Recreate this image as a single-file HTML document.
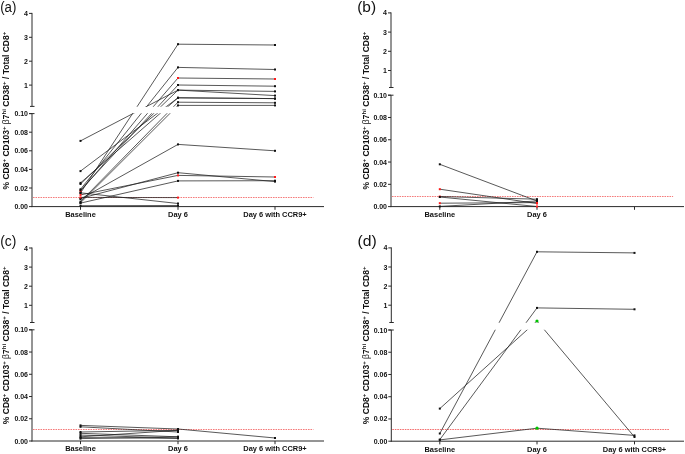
<!DOCTYPE html>
<html><head><meta charset="utf-8"><style>
html,body{margin:0;padding:0;background:#fff;}
body{width:685px;height:454px;overflow:hidden;}
svg{display:block;will-change:transform;}
text{font-family:"Liberation Sans", sans-serif;fill:#111;}
</style></head><body>
<svg width="685" height="454" viewBox="0 0 685 454" shape-rendering="auto">
<rect width="685" height="454" fill="#fff"/>
<text x="0.2" y="12.1" font-size="13.8" font-weight="normal" text-anchor="start" transform="translate(0.2,12.1) scale(0.96,1) translate(-0.2,-12.1)">(a)</text>
<text x="0" y="0" font-size="8.5" font-weight="bold" text-anchor="middle" transform="translate(9.2,110.6) rotate(-90) scale(1,1)">% CD8<tspan font-size="6.12" dy="-3.23">+</tspan><tspan dy="3.23"> CD103</tspan><tspan font-size="6.12" dy="-3.23">+</tspan><tspan dy="3.23" font-weight="normal"> β</tspan><tspan>7</tspan><tspan font-size="6.12" dy="-3.23">hi</tspan><tspan dy="3.23"> CD38</tspan><tspan font-size="6.12" dy="-3.23">+</tspan><tspan dy="3.23"> / Total CD8</tspan><tspan font-size="6.12" dy="-3.23">+</tspan></text>
<line x1="32" y1="12.9" x2="32" y2="106.4" stroke="#2a2a2a" stroke-width="1"/>
<line x1="30" y1="106.4" x2="34.5" y2="106.4" stroke="#2a2a2a" stroke-width="1"/>
<line x1="29" y1="13.4" x2="32" y2="13.4" stroke="#2a2a2a" stroke-width="1"/>
<text x="28" y="15.9" font-size="7" font-weight="bold" text-anchor="end">4</text>
<line x1="29" y1="37.3" x2="32" y2="37.3" stroke="#2a2a2a" stroke-width="1"/>
<text x="28" y="39.8" font-size="7" font-weight="bold" text-anchor="end">3</text>
<line x1="29" y1="61.2" x2="32" y2="61.2" stroke="#2a2a2a" stroke-width="1"/>
<text x="28" y="63.7" font-size="7" font-weight="bold" text-anchor="end">2</text>
<line x1="29" y1="85.1" x2="32" y2="85.1" stroke="#2a2a2a" stroke-width="1"/>
<text x="28" y="87.6" font-size="7" font-weight="bold" text-anchor="end">1</text>
<line x1="32" y1="113.6" x2="32" y2="207.1" stroke="#2a2a2a" stroke-width="1"/>
<line x1="29" y1="113.6" x2="34.5" y2="113.6" stroke="#2a2a2a" stroke-width="1"/>
<line x1="29" y1="113.6" x2="32" y2="113.6" stroke="#2a2a2a" stroke-width="1"/>
<text x="28" y="116.1" font-size="7" font-weight="bold" text-anchor="end">0.10</text>
<line x1="29" y1="132.2" x2="32" y2="132.2" stroke="#2a2a2a" stroke-width="1"/>
<text x="28" y="134.7" font-size="7" font-weight="bold" text-anchor="end">0.08</text>
<line x1="29" y1="150.8" x2="32" y2="150.8" stroke="#2a2a2a" stroke-width="1"/>
<text x="28" y="153.3" font-size="7" font-weight="bold" text-anchor="end">0.06</text>
<line x1="29" y1="169.4" x2="32" y2="169.4" stroke="#2a2a2a" stroke-width="1"/>
<text x="28" y="171.9" font-size="7" font-weight="bold" text-anchor="end">0.04</text>
<line x1="29" y1="188" x2="32" y2="188" stroke="#2a2a2a" stroke-width="1"/>
<text x="28" y="190.5" font-size="7" font-weight="bold" text-anchor="end">0.02</text>
<line x1="29" y1="206.6" x2="32" y2="206.6" stroke="#2a2a2a" stroke-width="1"/>
<text x="28" y="209.1" font-size="7" font-weight="bold" text-anchor="end">0.00</text>
<line x1="31.5" y1="206.6" x2="324" y2="206.6" stroke="#2a2a2a" stroke-width="1"/>
<line x1="80.5" y1="206.6" x2="80.5" y2="209.8" stroke="#2a2a2a" stroke-width="1"/>
<line x1="178" y1="206.6" x2="178" y2="209.8" stroke="#2a2a2a" stroke-width="1"/>
<line x1="275" y1="206.6" x2="275" y2="209.8" stroke="#2a2a2a" stroke-width="1"/>
<text x="80.5" y="216.9" font-size="7.45" font-weight="bold" text-anchor="middle">Baseline</text>
<text x="178" y="216.9" font-size="7.45" font-weight="bold" text-anchor="middle">Day 6</text>
<text x="275" y="216.9" font-size="7.45" font-weight="bold" text-anchor="middle">Day 6 with CCR9+</text>
<line x1="33" y1="197.4" x2="313.4" y2="197.4" stroke="#ee1c1c" stroke-width="0.8" stroke-dasharray="1.6 0.9" opacity="0.8"/>
<clipPath id="cua"><rect x="33" y="0" width="400" height="106.7"/></clipPath>
<clipPath id="cla"><rect x="33" y="113.3" width="400" height="300"/></clipPath>
<g clip-path="url(#cua)" stroke="#222" stroke-width="0.75">
<line x1="80.5" y1="140.9" x2="178" y2="90.1"/>
<line x1="178" y1="90.1" x2="275" y2="91.4"/>
<line x1="80.5" y1="171.1" x2="178" y2="97.8"/>
<line x1="178" y1="97.8" x2="275" y2="98.6"/>
<line x1="80.5" y1="193" x2="178" y2="44.2"/>
<line x1="178" y1="44.2" x2="275" y2="45"/>
<line x1="80.5" y1="189.3" x2="178" y2="67.4"/>
<line x1="178" y1="67.4" x2="275" y2="69.5"/>
<line x1="80.5" y1="191" x2="178" y2="78"/>
<line x1="178" y1="78" x2="275" y2="79"/>
<line x1="80.5" y1="190.3" x2="178" y2="85"/>
<line x1="178" y1="85" x2="275" y2="86.2"/>
<line x1="80.5" y1="182.9" x2="178" y2="97.8"/>
<line x1="178" y1="97.8" x2="275" y2="98.6"/>
<line x1="80.5" y1="184" x2="178" y2="90.1"/>
<line x1="178" y1="90.1" x2="275" y2="95.6"/>
<line x1="80.5" y1="201.6" x2="178" y2="102.2"/>
<line x1="178" y1="102.2" x2="275" y2="102.8"/>
<line x1="80.5" y1="202.8" x2="178" y2="105.4"/>
<line x1="178" y1="105.4" x2="275" y2="105.4"/>
<line x1="80.5" y1="199" x2="178" y2="144.4"/>
<line x1="178" y1="144.4" x2="275" y2="150.8"/>
<line x1="80.5" y1="198.4" x2="178" y2="172.7"/>
<line x1="178" y1="172.7" x2="275" y2="181.6"/>
<line x1="80.5" y1="194.9" x2="178" y2="175.4"/>
<line x1="178" y1="175.4" x2="275" y2="177"/>
<line x1="80.5" y1="203.1" x2="178" y2="180.9"/>
<line x1="178" y1="180.9" x2="275" y2="180.7"/>
<line x1="80.5" y1="192.8" x2="178" y2="203.5"/>
<line x1="80.5" y1="197.4" x2="178" y2="197.6"/>
<line x1="80.5" y1="205.7" x2="178" y2="205.5"/>
</g>
<g clip-path="url(#cla)" stroke="#222" stroke-width="0.75">
<line x1="80.5" y1="140.9" x2="178" y2="90.1"/>
<line x1="178" y1="90.1" x2="275" y2="91.4"/>
<line x1="80.5" y1="171.1" x2="178" y2="97.8"/>
<line x1="178" y1="97.8" x2="275" y2="98.6"/>
<line x1="80.5" y1="193" x2="178" y2="44.2"/>
<line x1="178" y1="44.2" x2="275" y2="45"/>
<line x1="80.5" y1="189.3" x2="178" y2="67.4"/>
<line x1="178" y1="67.4" x2="275" y2="69.5"/>
<line x1="80.5" y1="191" x2="178" y2="78"/>
<line x1="178" y1="78" x2="275" y2="79"/>
<line x1="80.5" y1="190.3" x2="178" y2="85"/>
<line x1="178" y1="85" x2="275" y2="86.2"/>
<line x1="80.5" y1="182.9" x2="178" y2="97.8"/>
<line x1="178" y1="97.8" x2="275" y2="98.6"/>
<line x1="80.5" y1="184" x2="178" y2="90.1"/>
<line x1="178" y1="90.1" x2="275" y2="95.6"/>
<line x1="80.5" y1="201.6" x2="178" y2="102.2"/>
<line x1="178" y1="102.2" x2="275" y2="102.8"/>
<line x1="80.5" y1="202.8" x2="178" y2="105.4"/>
<line x1="178" y1="105.4" x2="275" y2="105.4"/>
<line x1="80.5" y1="199" x2="178" y2="144.4"/>
<line x1="178" y1="144.4" x2="275" y2="150.8"/>
<line x1="80.5" y1="198.4" x2="178" y2="172.7"/>
<line x1="178" y1="172.7" x2="275" y2="181.6"/>
<line x1="80.5" y1="194.9" x2="178" y2="175.4"/>
<line x1="178" y1="175.4" x2="275" y2="177"/>
<line x1="80.5" y1="203.1" x2="178" y2="180.9"/>
<line x1="178" y1="180.9" x2="275" y2="180.7"/>
<line x1="80.5" y1="192.8" x2="178" y2="203.5"/>
<line x1="80.5" y1="197.4" x2="178" y2="197.6"/>
<line x1="80.5" y1="205.7" x2="178" y2="205.5"/>
</g>
<rect x="79.5" y="139.9" width="2" height="2" fill="#111"/>
<rect x="177" y="89.1" width="2" height="2" fill="#111"/>
<rect x="274" y="90.4" width="2" height="2" fill="#111"/>
<rect x="79.5" y="170.1" width="2" height="2" fill="#111"/>
<rect x="177" y="96.8" width="2" height="2" fill="#111"/>
<rect x="274" y="97.6" width="2" height="2" fill="#111"/>
<rect x="79.5" y="192" width="2" height="2" fill="#111"/>
<rect x="177" y="43.2" width="2" height="2" fill="#111"/>
<rect x="274" y="44" width="2" height="2" fill="#111"/>
<rect x="79.5" y="188.3" width="2" height="2" fill="#111"/>
<rect x="177" y="66.4" width="2" height="2" fill="#111"/>
<rect x="274" y="68.5" width="2" height="2" fill="#111"/>
<rect x="79.5" y="190" width="2" height="2" fill="#ff1a1a"/>
<rect x="177" y="77" width="2" height="2" fill="#ff1a1a"/>
<rect x="274" y="78" width="2" height="2" fill="#ff1a1a"/>
<rect x="79.5" y="189.3" width="2" height="2" fill="#111"/>
<rect x="177" y="84" width="2" height="2" fill="#111"/>
<rect x="274" y="85.2" width="2" height="2" fill="#111"/>
<rect x="79.5" y="181.9" width="2" height="2" fill="#111"/>
<rect x="177" y="96.8" width="2" height="2" fill="#111"/>
<rect x="274" y="97.6" width="2" height="2" fill="#111"/>
<rect x="79.5" y="183" width="2" height="2" fill="#111"/>
<rect x="177" y="89.1" width="2" height="2" fill="#111"/>
<rect x="274" y="94.6" width="2" height="2" fill="#111"/>
<rect x="79.5" y="200.6" width="2" height="2" fill="#111"/>
<rect x="177" y="101.2" width="2" height="2" fill="#111"/>
<rect x="274" y="101.8" width="2" height="2" fill="#111"/>
<rect x="79.5" y="201.8" width="2" height="2" fill="#111"/>
<rect x="177" y="104.4" width="2" height="2" fill="#111"/>
<rect x="274" y="104.4" width="2" height="2" fill="#111"/>
<rect x="79.5" y="198" width="2" height="2" fill="#111"/>
<rect x="177" y="143.4" width="2" height="2" fill="#111"/>
<rect x="274" y="149.8" width="2" height="2" fill="#111"/>
<rect x="79.5" y="197.4" width="2" height="2" fill="#111"/>
<rect x="177" y="171.7" width="2" height="2" fill="#111"/>
<rect x="274" y="180.6" width="2" height="2" fill="#111"/>
<rect x="79.5" y="193.9" width="2" height="2" fill="#ff1a1a"/>
<rect x="177" y="174.4" width="2" height="2" fill="#ff1a1a"/>
<rect x="274" y="176" width="2" height="2" fill="#ff1a1a"/>
<rect x="79.5" y="202.1" width="2" height="2" fill="#111"/>
<rect x="177" y="179.9" width="2" height="2" fill="#111"/>
<rect x="274" y="179.7" width="2" height="2" fill="#111"/>
<rect x="79.5" y="191.8" width="2" height="2" fill="#111"/>
<rect x="177" y="202.5" width="2" height="2" fill="#111"/>
<rect x="79.5" y="196.4" width="2" height="2" fill="#ff1a1a"/>
<rect x="177" y="196.6" width="2" height="2" fill="#ff1a1a"/>
<rect x="79.5" y="204.7" width="2" height="2" fill="#111"/>
<rect x="177" y="204.5" width="2" height="2" fill="#111"/>
<text x="357.2" y="12.1" font-size="13.8" font-weight="normal" text-anchor="start" transform="translate(357.2,12.1) scale(1.12,1) translate(-357.2,-12.1)">(b)</text>
<text x="0" y="0" font-size="8.5" font-weight="bold" text-anchor="middle" transform="translate(369.2,110.6) rotate(-90) scale(1,1)">% CD8<tspan font-size="6.12" dy="-3.23">+</tspan><tspan dy="3.23"> CD103</tspan><tspan font-size="6.12" dy="-3.23">+</tspan><tspan dy="3.23" font-weight="normal"> β</tspan><tspan>7</tspan><tspan font-size="6.12" dy="-3.23">hi</tspan><tspan dy="3.23"> CD38</tspan><tspan font-size="6.12" dy="-3.23">+</tspan><tspan dy="3.23"> / Total CD8</tspan><tspan font-size="6.12" dy="-3.23">+</tspan></text>
<line x1="391" y1="12.4" x2="391" y2="87.5" stroke="#2a2a2a" stroke-width="1"/>
<line x1="389" y1="87.5" x2="393.5" y2="87.5" stroke="#2a2a2a" stroke-width="1"/>
<line x1="388" y1="12.9" x2="391" y2="12.9" stroke="#2a2a2a" stroke-width="1"/>
<text x="387" y="15.4" font-size="7" font-weight="bold" text-anchor="end">4</text>
<line x1="388" y1="32.1" x2="391" y2="32.1" stroke="#2a2a2a" stroke-width="1"/>
<text x="387" y="34.6" font-size="7" font-weight="bold" text-anchor="end">3</text>
<line x1="388" y1="51.3" x2="391" y2="51.3" stroke="#2a2a2a" stroke-width="1"/>
<text x="387" y="53.8" font-size="7" font-weight="bold" text-anchor="end">2</text>
<line x1="388" y1="70.5" x2="391" y2="70.5" stroke="#2a2a2a" stroke-width="1"/>
<text x="387" y="73" font-size="7" font-weight="bold" text-anchor="end">1</text>
<line x1="391" y1="95.2" x2="391" y2="207.1" stroke="#2a2a2a" stroke-width="1"/>
<line x1="388" y1="95.2" x2="393.5" y2="95.2" stroke="#2a2a2a" stroke-width="1"/>
<line x1="388" y1="95.2" x2="391" y2="95.2" stroke="#2a2a2a" stroke-width="1"/>
<text x="387" y="97.7" font-size="7" font-weight="bold" text-anchor="end">0.10</text>
<line x1="388" y1="117.48" x2="391" y2="117.48" stroke="#2a2a2a" stroke-width="1"/>
<text x="387" y="119.98" font-size="7" font-weight="bold" text-anchor="end">0.08</text>
<line x1="388" y1="139.76" x2="391" y2="139.76" stroke="#2a2a2a" stroke-width="1"/>
<text x="387" y="142.26" font-size="7" font-weight="bold" text-anchor="end">0.06</text>
<line x1="388" y1="162.04" x2="391" y2="162.04" stroke="#2a2a2a" stroke-width="1"/>
<text x="387" y="164.54" font-size="7" font-weight="bold" text-anchor="end">0.04</text>
<line x1="388" y1="184.32" x2="391" y2="184.32" stroke="#2a2a2a" stroke-width="1"/>
<text x="387" y="186.82" font-size="7" font-weight="bold" text-anchor="end">0.02</text>
<line x1="388" y1="206.6" x2="391" y2="206.6" stroke="#2a2a2a" stroke-width="1"/>
<text x="387" y="209.1" font-size="7" font-weight="bold" text-anchor="end">0.00</text>
<line x1="390.5" y1="206.6" x2="684" y2="206.6" stroke="#2a2a2a" stroke-width="1"/>
<line x1="439.8" y1="206.6" x2="439.8" y2="209.8" stroke="#2a2a2a" stroke-width="1"/>
<line x1="537" y1="206.6" x2="537" y2="209.8" stroke="#2a2a2a" stroke-width="1"/>
<line x1="634.5" y1="206.6" x2="634.5" y2="209.8" stroke="#2a2a2a" stroke-width="1"/>
<text x="439.8" y="216.9" font-size="7.45" font-weight="bold" text-anchor="middle">Baseline</text>
<text x="537" y="216.9" font-size="7.45" font-weight="bold" text-anchor="middle">Day 6</text>
<line x1="392" y1="196.4" x2="673.1" y2="196.4" stroke="#ee1c1c" stroke-width="0.8" stroke-dasharray="1.6 0.9" opacity="0.8"/>
<clipPath id="cub"><rect x="392" y="0" width="400" height="87.8"/></clipPath>
<clipPath id="clb"><rect x="392" y="94.9" width="400" height="300"/></clipPath>
<g clip-path="url(#cub)" stroke="#222" stroke-width="0.75">
<line x1="439.8" y1="164.3" x2="537" y2="201"/>
<line x1="439.8" y1="189.2" x2="537" y2="203.5"/>
<line x1="439.8" y1="196.5" x2="537" y2="199.2"/>
<line x1="439.8" y1="197" x2="537" y2="206.5"/>
<line x1="439.8" y1="203.2" x2="537" y2="202.6"/>
<line x1="439.8" y1="206.4" x2="537" y2="201"/>
</g>
<g clip-path="url(#clb)" stroke="#222" stroke-width="0.75">
<line x1="439.8" y1="164.3" x2="537" y2="201"/>
<line x1="439.8" y1="189.2" x2="537" y2="203.5"/>
<line x1="439.8" y1="196.5" x2="537" y2="199.2"/>
<line x1="439.8" y1="197" x2="537" y2="206.5"/>
<line x1="439.8" y1="203.2" x2="537" y2="202.6"/>
<line x1="439.8" y1="206.4" x2="537" y2="201"/>
</g>
<rect x="438.8" y="163.3" width="2" height="2" fill="#111"/>
<rect x="536" y="200" width="2" height="2" fill="#111"/>
<rect x="438.8" y="188.2" width="2" height="2" fill="#ff1a1a"/>
<rect x="536" y="202.5" width="2" height="2" fill="#ff1a1a"/>
<rect x="438.8" y="195.5" width="2" height="2" fill="#ff1a1a"/>
<rect x="536" y="198.2" width="2" height="2" fill="#111"/>
<rect x="438.8" y="196" width="2" height="2" fill="#111"/>
<rect x="536" y="205.5" width="2" height="2" fill="#ff1a1a"/>
<rect x="438.8" y="202.2" width="2" height="2" fill="#ff1a1a"/>
<rect x="536" y="201.6" width="2" height="2" fill="#ff1a1a"/>
<rect x="438.8" y="205.4" width="2" height="2" fill="#111"/>
<rect x="536" y="200" width="2" height="2" fill="#111"/>
<text x="0.2" y="246.4" font-size="13.8" font-weight="normal" text-anchor="start" transform="translate(0.2,246.4) scale(1,1) translate(-0.2,-246.4)">(c)</text>
<text x="0" y="0" font-size="8.5" font-weight="bold" text-anchor="middle" transform="translate(8.9,345.3) rotate(-90) scale(1,1)">% CD8<tspan font-size="6.12" dy="-3.23">+</tspan><tspan dy="3.23"> CD103</tspan><tspan font-size="6.12" dy="-3.23">+</tspan><tspan dy="3.23" font-weight="normal"> β</tspan><tspan>7</tspan><tspan font-size="6.12" dy="-3.23">hi</tspan><tspan dy="3.23"> CD38</tspan><tspan font-size="6.12" dy="-3.23">+</tspan><tspan dy="3.23"> / Total CD8</tspan><tspan font-size="6.12" dy="-3.23">+</tspan></text>
<line x1="32" y1="247.5" x2="32" y2="322.5" stroke="#2a2a2a" stroke-width="1"/>
<line x1="30" y1="322.5" x2="34.5" y2="322.5" stroke="#2a2a2a" stroke-width="1"/>
<line x1="29" y1="248" x2="32" y2="248" stroke="#2a2a2a" stroke-width="1"/>
<text x="28" y="250.5" font-size="7" font-weight="bold" text-anchor="end">4</text>
<line x1="29" y1="267.1" x2="32" y2="267.1" stroke="#2a2a2a" stroke-width="1"/>
<text x="28" y="269.6" font-size="7" font-weight="bold" text-anchor="end">3</text>
<line x1="29" y1="286.2" x2="32" y2="286.2" stroke="#2a2a2a" stroke-width="1"/>
<text x="28" y="288.7" font-size="7" font-weight="bold" text-anchor="end">2</text>
<line x1="29" y1="305.3" x2="32" y2="305.3" stroke="#2a2a2a" stroke-width="1"/>
<text x="28" y="307.8" font-size="7" font-weight="bold" text-anchor="end">1</text>
<line x1="32" y1="329.8" x2="32" y2="441.5" stroke="#2a2a2a" stroke-width="1"/>
<line x1="29" y1="329.8" x2="34.5" y2="329.8" stroke="#2a2a2a" stroke-width="1"/>
<line x1="29" y1="329.8" x2="32" y2="329.8" stroke="#2a2a2a" stroke-width="1"/>
<text x="28" y="332.3" font-size="7" font-weight="bold" text-anchor="end">0.10</text>
<line x1="29" y1="352.04" x2="32" y2="352.04" stroke="#2a2a2a" stroke-width="1"/>
<text x="28" y="354.54" font-size="7" font-weight="bold" text-anchor="end">0.08</text>
<line x1="29" y1="374.28" x2="32" y2="374.28" stroke="#2a2a2a" stroke-width="1"/>
<text x="28" y="376.78" font-size="7" font-weight="bold" text-anchor="end">0.06</text>
<line x1="29" y1="396.52" x2="32" y2="396.52" stroke="#2a2a2a" stroke-width="1"/>
<text x="28" y="399.02" font-size="7" font-weight="bold" text-anchor="end">0.04</text>
<line x1="29" y1="418.76" x2="32" y2="418.76" stroke="#2a2a2a" stroke-width="1"/>
<text x="28" y="421.26" font-size="7" font-weight="bold" text-anchor="end">0.02</text>
<line x1="29" y1="441" x2="32" y2="441" stroke="#2a2a2a" stroke-width="1"/>
<text x="28" y="443.5" font-size="7" font-weight="bold" text-anchor="end">0.00</text>
<line x1="31.5" y1="441" x2="324" y2="441" stroke="#2a2a2a" stroke-width="1"/>
<line x1="80.5" y1="441" x2="80.5" y2="444.2" stroke="#2a2a2a" stroke-width="1"/>
<line x1="178" y1="441" x2="178" y2="444.2" stroke="#2a2a2a" stroke-width="1"/>
<line x1="275" y1="441" x2="275" y2="444.2" stroke="#2a2a2a" stroke-width="1"/>
<text x="80.5" y="451.3" font-size="7.45" font-weight="bold" text-anchor="middle">Baseline</text>
<text x="178" y="451.3" font-size="7.45" font-weight="bold" text-anchor="middle">Day 6</text>
<text x="275" y="451.3" font-size="7.45" font-weight="bold" text-anchor="middle">Day 6 with CCR9+</text>
<line x1="33" y1="429.6" x2="313.4" y2="429.6" stroke="#ee1c1c" stroke-width="0.8" stroke-dasharray="1.6 0.9" opacity="0.8"/>
<clipPath id="cuc"><rect x="33" y="0" width="400" height="322.8"/></clipPath>
<clipPath id="clc"><rect x="33" y="329.5" width="400" height="300"/></clipPath>
<g clip-path="url(#cuc)" stroke="#222" stroke-width="0.75">
<line x1="80.5" y1="425.4" x2="178" y2="429"/>
<line x1="178" y1="429" x2="275" y2="438"/>
<line x1="80.5" y1="426.8" x2="178" y2="432"/>
<line x1="80.5" y1="432" x2="178" y2="430.3"/>
<line x1="80.5" y1="433.3" x2="178" y2="436.8"/>
<line x1="80.5" y1="435.1" x2="178" y2="438.1"/>
<line x1="80.5" y1="436.8" x2="178" y2="430.3"/>
<line x1="80.5" y1="438.6" x2="178" y2="436.8"/>
<line x1="80.5" y1="437.6" x2="178" y2="438.4"/>
</g>
<g clip-path="url(#clc)" stroke="#222" stroke-width="0.75">
<line x1="80.5" y1="425.4" x2="178" y2="429"/>
<line x1="178" y1="429" x2="275" y2="438"/>
<line x1="80.5" y1="426.8" x2="178" y2="432"/>
<line x1="80.5" y1="432" x2="178" y2="430.3"/>
<line x1="80.5" y1="433.3" x2="178" y2="436.8"/>
<line x1="80.5" y1="435.1" x2="178" y2="438.1"/>
<line x1="80.5" y1="436.8" x2="178" y2="430.3"/>
<line x1="80.5" y1="438.6" x2="178" y2="436.8"/>
<line x1="80.5" y1="437.6" x2="178" y2="438.4"/>
</g>
<rect x="79.5" y="424.4" width="2" height="2" fill="#111"/>
<rect x="177" y="428" width="2" height="2" fill="#111"/>
<rect x="274" y="437" width="2" height="2" fill="#111"/>
<rect x="79.5" y="425.8" width="2" height="2" fill="#111"/>
<rect x="177" y="431" width="2" height="2" fill="#111"/>
<rect x="79.5" y="431" width="2" height="2" fill="#111"/>
<rect x="177" y="429.3" width="2" height="2" fill="#111"/>
<rect x="79.5" y="432.3" width="2" height="2" fill="#111"/>
<rect x="177" y="435.8" width="2" height="2" fill="#111"/>
<rect x="79.5" y="434.1" width="2" height="2" fill="#111"/>
<rect x="177" y="437.1" width="2" height="2" fill="#111"/>
<rect x="79.5" y="435.8" width="2" height="2" fill="#111"/>
<rect x="177" y="429.3" width="2" height="2" fill="#111"/>
<rect x="79.5" y="437.6" width="2" height="2" fill="#111"/>
<rect x="177" y="435.8" width="2" height="2" fill="#111"/>
<rect x="79.5" y="436.6" width="2" height="2" fill="#111"/>
<rect x="177" y="437.4" width="2" height="2" fill="#111"/>
<text x="357.5" y="246.4" font-size="13.8" font-weight="normal" text-anchor="start" transform="translate(357.5,246.4) scale(1.14,1) translate(-357.5,-246.4)">(d)</text>
<text x="0" y="0" font-size="8.5" font-weight="bold" text-anchor="middle" transform="translate(369,345.3) rotate(-90) scale(1,1)">% CD8<tspan font-size="6.12" dy="-3.23">+</tspan><tspan dy="3.23"> CD103</tspan><tspan font-size="6.12" dy="-3.23">+</tspan><tspan dy="3.23" font-weight="normal"> β</tspan><tspan>7</tspan><tspan font-size="6.12" dy="-3.23">hi</tspan><tspan dy="3.23"> CD38</tspan><tspan font-size="6.12" dy="-3.23">+</tspan><tspan dy="3.23"> / Total CD8</tspan><tspan font-size="6.12" dy="-3.23">+</tspan></text>
<line x1="391.3" y1="247.4" x2="391.3" y2="322.5" stroke="#2a2a2a" stroke-width="1"/>
<line x1="389.3" y1="322.5" x2="393.8" y2="322.5" stroke="#2a2a2a" stroke-width="1"/>
<line x1="388.3" y1="247.9" x2="391.3" y2="247.9" stroke="#2a2a2a" stroke-width="1"/>
<text x="387.3" y="250.4" font-size="7" font-weight="bold" text-anchor="end">4</text>
<line x1="388.3" y1="267" x2="391.3" y2="267" stroke="#2a2a2a" stroke-width="1"/>
<text x="387.3" y="269.5" font-size="7" font-weight="bold" text-anchor="end">3</text>
<line x1="388.3" y1="286.1" x2="391.3" y2="286.1" stroke="#2a2a2a" stroke-width="1"/>
<text x="387.3" y="288.6" font-size="7" font-weight="bold" text-anchor="end">2</text>
<line x1="388.3" y1="305.2" x2="391.3" y2="305.2" stroke="#2a2a2a" stroke-width="1"/>
<text x="387.3" y="307.7" font-size="7" font-weight="bold" text-anchor="end">1</text>
<line x1="391.3" y1="330" x2="391.3" y2="441.7" stroke="#2a2a2a" stroke-width="1"/>
<line x1="388.3" y1="330" x2="393.8" y2="330" stroke="#2a2a2a" stroke-width="1"/>
<line x1="388.3" y1="330" x2="391.3" y2="330" stroke="#2a2a2a" stroke-width="1"/>
<text x="387.3" y="332.5" font-size="7" font-weight="bold" text-anchor="end">0.10</text>
<line x1="388.3" y1="352.24" x2="391.3" y2="352.24" stroke="#2a2a2a" stroke-width="1"/>
<text x="387.3" y="354.74" font-size="7" font-weight="bold" text-anchor="end">0.08</text>
<line x1="388.3" y1="374.48" x2="391.3" y2="374.48" stroke="#2a2a2a" stroke-width="1"/>
<text x="387.3" y="376.98" font-size="7" font-weight="bold" text-anchor="end">0.06</text>
<line x1="388.3" y1="396.72" x2="391.3" y2="396.72" stroke="#2a2a2a" stroke-width="1"/>
<text x="387.3" y="399.22" font-size="7" font-weight="bold" text-anchor="end">0.04</text>
<line x1="388.3" y1="418.96" x2="391.3" y2="418.96" stroke="#2a2a2a" stroke-width="1"/>
<text x="387.3" y="421.46" font-size="7" font-weight="bold" text-anchor="end">0.02</text>
<line x1="388.3" y1="441.2" x2="391.3" y2="441.2" stroke="#2a2a2a" stroke-width="1"/>
<text x="387.3" y="443.7" font-size="7" font-weight="bold" text-anchor="end">0.00</text>
<line x1="390.8" y1="441.2" x2="684" y2="441.2" stroke="#2a2a2a" stroke-width="1"/>
<line x1="439.8" y1="441.2" x2="439.8" y2="444.4" stroke="#2a2a2a" stroke-width="1"/>
<line x1="537" y1="441.2" x2="537" y2="444.4" stroke="#2a2a2a" stroke-width="1"/>
<line x1="634.5" y1="441.2" x2="634.5" y2="444.4" stroke="#2a2a2a" stroke-width="1"/>
<text x="439.8" y="451.5" font-size="7.45" font-weight="bold" text-anchor="middle">Baseline</text>
<text x="537" y="451.5" font-size="7.45" font-weight="bold" text-anchor="middle">Day 6</text>
<text x="634.5" y="451.5" font-size="7.45" font-weight="bold" text-anchor="middle">Day 6 with CCR9+</text>
<line x1="392.3" y1="429.5" x2="669.2" y2="429.5" stroke="#ee1c1c" stroke-width="0.8" stroke-dasharray="1.6 0.9" opacity="0.8"/>
<clipPath id="cud"><rect x="392.3" y="0" width="400" height="322.8"/></clipPath>
<clipPath id="cld"><rect x="392.3" y="329.7" width="400" height="300"/></clipPath>
<g clip-path="url(#cud)" stroke="#222" stroke-width="0.75">
<line x1="439.8" y1="408.6" x2="537" y2="321"/>
<line x1="537" y1="321" x2="634.5" y2="437"/>
<line x1="439.8" y1="433.5" x2="537" y2="251.8"/>
<line x1="537" y1="251.8" x2="634.5" y2="252.9"/>
<line x1="439.8" y1="439.6" x2="537" y2="307.9"/>
<line x1="537" y1="307.9" x2="634.5" y2="309.3"/>
<line x1="439.8" y1="439.9" x2="537" y2="428.2"/>
<line x1="537" y1="428.2" x2="634.5" y2="435.4"/>
</g>
<g clip-path="url(#cld)" stroke="#222" stroke-width="0.75">
<line x1="439.8" y1="408.6" x2="537" y2="321"/>
<line x1="537" y1="321" x2="634.5" y2="437"/>
<line x1="439.8" y1="433.5" x2="537" y2="251.8"/>
<line x1="537" y1="251.8" x2="634.5" y2="252.9"/>
<line x1="439.8" y1="439.6" x2="537" y2="307.9"/>
<line x1="537" y1="307.9" x2="634.5" y2="309.3"/>
<line x1="439.8" y1="439.9" x2="537" y2="428.2"/>
<line x1="537" y1="428.2" x2="634.5" y2="435.4"/>
</g>
<rect x="438.8" y="407.6" width="2" height="2" fill="#111"/>
<circle cx="537" cy="321" r="1.6" fill="#00c200"/>
<rect x="633.5" y="436" width="2" height="2" fill="#111"/>
<rect x="438.8" y="432.5" width="2" height="2" fill="#111"/>
<rect x="536" y="250.8" width="2" height="2" fill="#111"/>
<rect x="633.5" y="251.9" width="2" height="2" fill="#111"/>
<rect x="438.8" y="438.6" width="2" height="2" fill="#111"/>
<rect x="536" y="306.9" width="2" height="2" fill="#111"/>
<rect x="633.5" y="308.3" width="2" height="2" fill="#111"/>
<rect x="438.8" y="438.9" width="2" height="2" fill="#111"/>
<circle cx="537" cy="428.2" r="1.6" fill="#00c200"/>
<rect x="633.5" y="434.4" width="2" height="2" fill="#111"/>
</svg>
</body></html>
